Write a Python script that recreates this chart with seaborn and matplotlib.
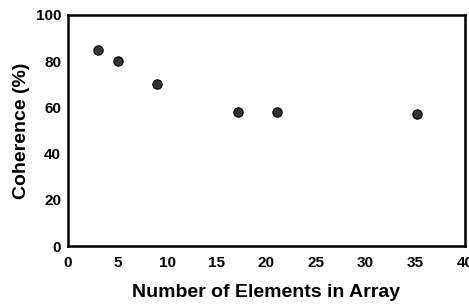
import matplotlib
matplotlib.use('Agg')
import matplotlib.pyplot as plt
import seaborn as sns
import pandas as pd

# Datos
n_elements = [3, 5, 9, 17.1, 21.1, 35.2]
coherence = [85, 80, 70, 58, 58, 57]

df = pd.DataFrame({'n': n_elements, 'coh': coherence})

sns.set_style('white')
plt.rcParams['font.family'] = ['Liberation Sans', 'DejaVu Sans']
plt.rcParams['font.weight'] = 'bold'
plt.rcParams['axes.labelcolor'] = 'black'
plt.rcParams['text.color'] = 'black'
plt.rcParams['xtick.color'] = 'black'
plt.rcParams['ytick.color'] = 'black'

fig = plt.figure(figsize=(4.69, 3.05), dpi=100)
ax = fig.add_axes([0.145, 0.193, 0.846, 0.758])

sns.scatterplot(data=df, x='n', y='coh', ax=ax, s=45, color='#333333',
                edgecolor='black', linewidth=0.8, zorder=3)

ax.set_xlim(0, 40)
ax.set_ylim(0, 100)
ax.set_xticks(range(0, 41, 5))
ax.set_yticks(range(0, 101, 20))
ax.tick_params(axis='both', direction='in', length=4, width=1.8, labelsize=11,
               pad=5, colors='black')
ax.tick_params(axis='x', pad=7)
for lab in ax.get_xticklabels() + ax.get_yticklabels():
    lab.set_fontweight('bold')

for sp in ax.spines.values():
    sp.set_linewidth(1.8)
    sp.set_color('black')

ax.set_xlabel('Number of Elements in Array', fontsize=14, fontweight='bold',
              labelpad=10, color='black')
ax.set_ylabel('Coherence (%)', fontsize=14, fontweight='bold', labelpad=4,
              color='black')

fig.savefig('out.png', dpi=100)
